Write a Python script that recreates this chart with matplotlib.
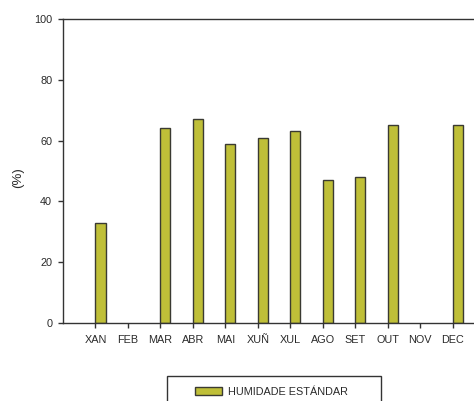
import matplotlib
matplotlib.use("Agg")
import matplotlib.pyplot as plt
from matplotlib.patches import Rectangle, Patch

months = ["XAN", "FEB", "MAR", "ABR", "MAI", "XUÑ", "XUL", "AGO", "SET", "OUT", "NOV", "DEC"]
humidity = [33, 0, 64, 67, 59, 61, 63, 47, 48, 65, 0, 65]
yticks = [0, 20, 40, 60, 80, 100]
series_label = "HUMIDADE ESTÁNDAR"

plt.rcParams['font.family'] = ['Liberation Sans', 'DejaVu Sans']

W, H = 474, 401
fig = plt.figure(figsize=(W / 100, H / 100), dpi=100)
ax = fig.add_axes([63 / W, (H - 323) / H, 422 / W, (323 - 19) / H])

bar_color = "#BFBF38"
edge = "#3a3a32"
x = list(range(len(months)))
vals_x = [i for i, v in zip(x, humidity) if v > 0]
vals_y = [v for v in humidity if v > 0]
ax.bar(vals_x, vals_y, width=0.31, align='edge', color=bar_color, edgecolor=edge, linewidth=1.0)

ax.set_xlim(-1, 12)
ax.set_ylim(0, 100)
ax.set_yticks(yticks)
ax.set_xticks(x)
ax.set_xticklabels(months)
ax.spines['right'].set_visible(False)
for s in ['left', 'bottom', 'top']:
    ax.spines[s].set_color("#333333")
    ax.spines[s].set_linewidth(1.0)
ax.tick_params(axis='both', direction='out', length=3.8, width=1.0, color="#333333",
               labelsize=7.8, labelcolor="#2a2a2a")
ax.tick_params(axis='x', pad=4.5)
ax.tick_params(axis='y', pad=4.0)
ax.set_ylabel("(%)", fontsize=9.5, color="#2a2a2a")
ax.yaxis.set_label_coords(-0.0917, 0.477)

# legend frame (extends below the figure)
fig.patches.append(Rectangle((167 / W, -10 / H), (381 - 167) / W, (401 - 376 + 10) / H,
                             transform=fig.transFigure, facecolor='white',
                             edgecolor="#333333", linewidth=1.0, clip_on=False))
handle = Patch(facecolor=bar_color, edgecolor=edge, linewidth=1.0, label=series_label)
fig.legend(handles=[handle], loc='center left', bbox_to_anchor=(185 / W, (H - 392) / H),
           frameon=False, fontsize=7.8, handlelength=2.5, handleheight=0.8,
           handletextpad=0.6, labelcolor="#2a2a2a")

fig.savefig("out.png", dpi=100)
